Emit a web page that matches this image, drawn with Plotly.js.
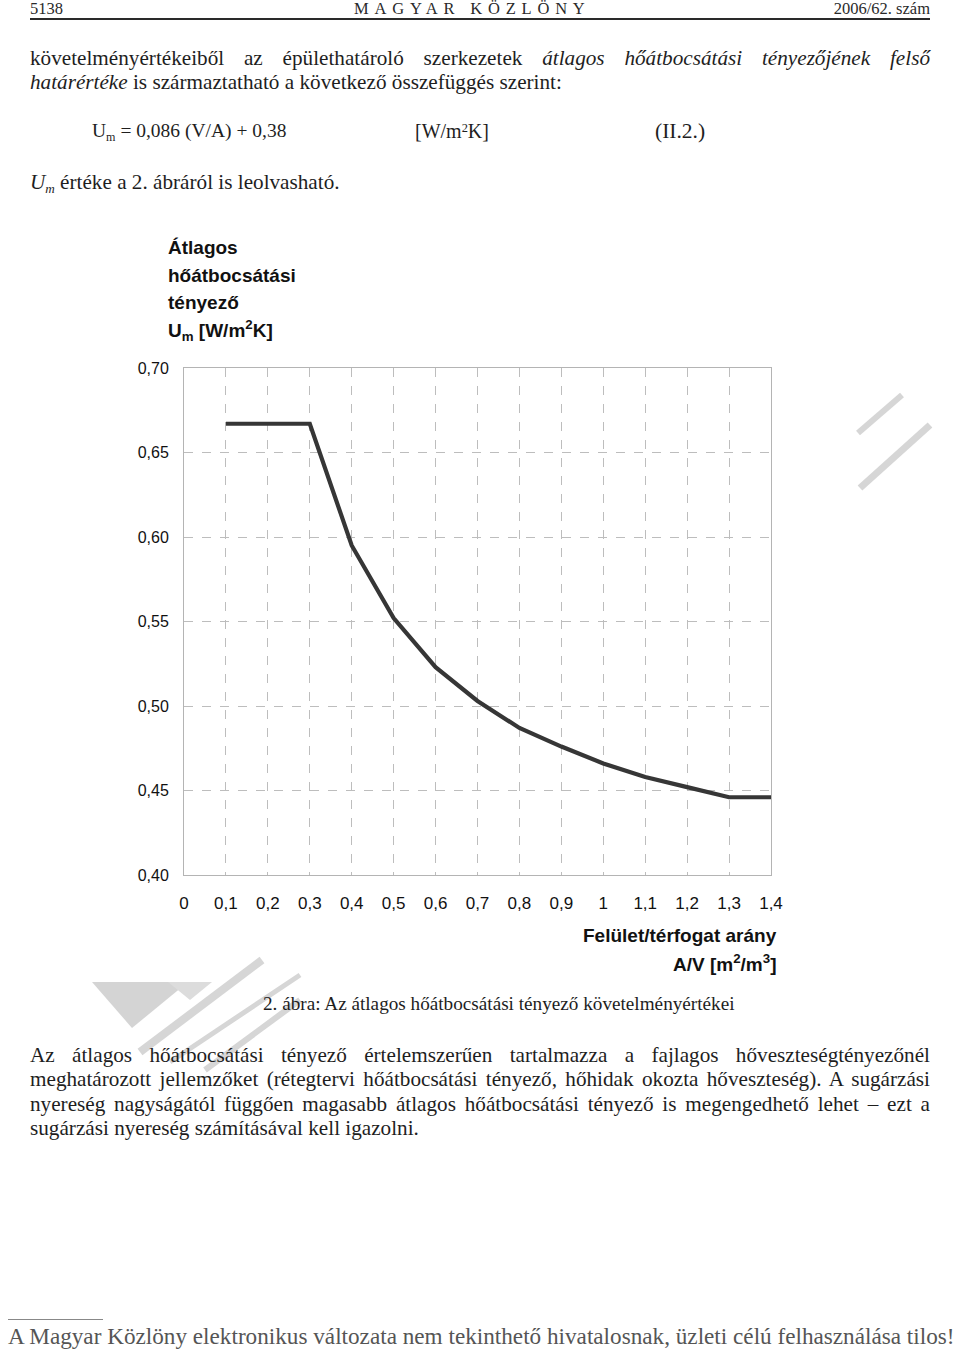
<!DOCTYPE html>
<html lang="hu">
<head>
<meta charset="utf-8">
<script src="https://cdn.plot.ly/plotly-3.0.1.min.js"></script>
<style>
  html, body { margin:0; padding:0; background:#fff; }
  body { width:960px; height:1352px; position:relative; overflow:hidden; }
  #chart { position:absolute; left:0; top:0; width:960px; height:1352px; z-index:1; }
  .t { position:absolute; z-index:2; font-family:"Liberation Serif","Times New Roman",serif; color:#1e1e1e;
       white-space:nowrap; line-height:24px; font-size:21.2px; transform-origin:left center; }
  .j { text-align:justify; text-align-last:justify; }
  .hdr { font-size:16.5px; color:#2a2a2a; }
  .sb { font-size:0.62em; position:relative; top:0.3em; line-height:1; }
  .sp { font-size:0.62em; position:relative; top:-0.45em; line-height:1; }
  #wm { position:absolute; left:0; top:0; z-index:0; }
</style>
</head>
<body>
<svg id="wm" width="960" height="1352">
  <g stroke="#d6d6d6" stroke-linecap="butt" fill="none">
    <line x1="858" y1="433" x2="902" y2="395" stroke-width="6"/>
    <line x1="860" y1="488" x2="930" y2="425" stroke-width="7"/>
    <line x1="140" y1="1052" x2="262" y2="960" stroke-width="8"/>
    <line x1="170" y1="1062" x2="300" y2="975" stroke-width="5"/>
    <line x1="205" y1="1070" x2="300" y2="1000" stroke-width="6"/>
  </g>
  <polygon points="92,982 188,982 132,1028" fill="#d4d4d4"/>
  <polygon points="168,982 212,982 190,1000" fill="#dcdcdc"/>
</svg>

<div id="chart"></div>

<!-- page header -->
<div class="t hdr" style="left:30px; top:-3px;">5138</div>
<div class="t hdr" style="left:354px; top:-3px; letter-spacing:5.8px;">MAGYAR KÖZLÖNY</div>
<div class="t hdr" style="left:930px; top:-3px;" data-right="930">2006/62. szám</div>
<div style="position:absolute; left:30px; top:18px; width:900px; height:1.5px; background:#2a2a2a; z-index:2;"></div>

<!-- text above chart -->
<div class="t j fit" data-w="900" style="left:30px; top:46px; width:900px;">követelményértékeiből az épülethatároló szerkezetek <i>átlagos hőátbocsátási tényezőjének felső</i></div>
<div class="t" style="left:30px; top:70px;"><i>határértéke</i> is származtatható a következő összefüggés szerint:</div>
<div class="t" style="left:92px; top:119px; font-size:19.5px;">U<span class="sb">m</span> = 0,086 (V/A) + 0,38</div>
<div class="t" style="left:415px; top:119px; font-size:20px;">[W/m<span class="sp">2</span>K]</div>
<div class="t" style="left:655px; top:119px; font-size:21.5px;">(II.2.)</div>
<div class="t" style="left:30px; top:170px;"><i>U<span class="sb">m</span></i> értéke a 2. ábráról is leolvasható.</div>

<!-- caption and text below chart -->
<div class="t" style="left:263px; top:992px; font-size:19.2px;">2. ábra: Az átlagos hőátbocsátási tényező követelményértékei</div>
<div class="t j fit" data-w="900" style="left:30px; top:1043px; width:900px;">Az átlagos hőátbocsátási tényező értelemszerűen tartalmazza a fajlagos hőveszteségtényezőnél</div>
<div class="t j fit" data-w="900" style="left:30px; top:1067px; width:900px;">meghatározott jellemzőket (rétegtervi hőátbocsátási tényező, hőhidak okozta hőveszteség). A sugárzási</div>
<div class="t j fit" data-w="900" style="left:30px; top:1092px; width:900px;">nyereség nagyságától függően magasabb átlagos hőátbocsátási tényező is megengedhető lehet – ezt a</div>
<div class="t" style="left:30px; top:1116px;">sugárzási nyereség számításával kell igazolni.</div>

<!-- footer -->
<div style="position:absolute; left:8px; top:1319px; width:95px; height:1px; background:#888; z-index:2;"></div>
<div class="t fit" data-w="947" style="left:8px; top:1324px; font-size:23.2px; color:#555;">A Magyar Közlöny elektronikus változata nem tekinthető hivatalosnak, üzleti célú felhasználása tilos!</div>

<script>
// ---- data ----
const avRatio  = [0.1, 0.2, 0.3, 0.4, 0.5, 0.6, 0.7, 0.8, 0.9, 1.0, 1.1, 1.2, 1.3, 1.4];
const umValues = [0.667, 0.667, 0.667, 0.595, 0.552, 0.523, 0.503, 0.487, 0.476, 0.466, 0.458, 0.452, 0.446, 0.446];
const xTickVals = [0, 0.1, 0.2, 0.3, 0.4, 0.5, 0.6, 0.7, 0.8, 0.9, 1.0, 1.1, 1.2, 1.3, 1.4];
const xTickText = ['0', '0,1', '0,2', '0,3', '0,4', '0,5', '0,6', '0,7', '0,8', '0,9', '1', '1,1', '1,2', '1,3', '1,4'];
const yTickVals = [0.40, 0.45, 0.50, 0.55, 0.60, 0.65, 0.70];
const yTickText = ['0,40', '0,45', '0,50', '0,55', '0,60', '0,65', '0,70'];
const yTitleLines = ['Átlagos', 'hőátbocsátási', 'tényező', 'U<sub>m</sub> [W/m<sup>2</sup>K]'];
const xTitleLines = ['Felület/térfogat arány', 'A/V [m<sup>2</sup>/m<sup>3</sup>]'];

// ---- layout helpers (pixel geometry of the plot area) ----
const W = 960, H = 1352;
const plotL = 184, plotR = 771, plotT = 368, plotB = 875;
const pw = plotR - plotL, ph = plotB - plotT;
const px2x = x => (x - plotL) / pw;
const px2y = y => (plotB - y) / ph;
const sansFont = 'Liberation Sans, Arial, sans-serif';

const yTitleY = [248, 275, 302, 330];
const xTitleY = [935, 963];
const annotations = [];
yTitleLines.forEach((t, i) => annotations.push({
  text: '<b>' + t + '</b>', xref: 'paper', yref: 'paper', x: px2x(166), y: px2y(yTitleY[i]),
  xanchor: 'left', yanchor: 'middle', showarrow: false,
  font: {family: sansFont, size: 19, color: '#111'}
}));
xTitleLines.forEach((t, i) => annotations.push({
  text: '<b>' + t + '</b>', xref: 'paper', yref: 'paper', x: px2x(779), y: px2y(xTitleY[i]),
  xanchor: 'right', yanchor: 'middle', showarrow: false,
  font: {family: sansFont, size: 19, color: '#111'}
}));

const trace = {
  x: avRatio, y: umValues, type: 'scatter', mode: 'lines',
  line: {color: '#363636', width: 4.2}, hoverinfo: 'skip', showlegend: false
};

const gridStyle = {
  showgrid: true, gridcolor: '#bdbdbd', gridwidth: 1, griddash: 'dash',
  showline: true, linecolor: '#b4b4b4', linewidth: 1, mirror: true,
  zeroline: false, ticks: 'outside', tickcolor: 'rgba(0,0,0,0)', fixedrange: true
};

const layout = {
  width: W, height: H,
  margin: {l: plotL, r: W - plotR, t: plotT, b: H - plotB, pad: 0},
  paper_bgcolor: 'rgba(0,0,0,0)', plot_bgcolor: 'rgba(0,0,0,0)',
  separators: ',.',
  showlegend: false,
  xaxis: Object.assign({}, gridStyle, {
    range: [0, 1.4], tickmode: 'array', tickvals: xTickVals, ticktext: xTickText,
    ticklen: 13, tickfont: {family: sansFont, size: 17, color: '#111'}
  }),
  yaxis: Object.assign({}, gridStyle, {
    range: [0.40, 0.70], tickmode: 'array', tickvals: yTickVals, ticktext: yTickText,
    ticklen: 11, tickfont: {family: sansFont, size: 16, color: '#111'}
  }),
  annotations: annotations
};

Plotly.newPlot('chart', [trace], layout, {staticPlot: true, displayModeBar: false});

// fit wide text lines into their column (the scanned typeface is condensed)
document.querySelectorAll('.fit').forEach(el => {
  const target = +el.dataset.w;
  el.style.width = 'auto';
  const natural = el.scrollWidth;
  if (natural > target) {
    el.style.transform = 'scaleX(' + (target / natural) + ')';
  } else if (el.classList.contains('j')) {
    el.style.width = target + 'px';
  }
});
document.querySelectorAll('[data-right]').forEach(el => {
  const r = +el.dataset.right;
  el.style.left = (r - el.getBoundingClientRect().width) + 'px';
});
</script>
</body>
</html>
